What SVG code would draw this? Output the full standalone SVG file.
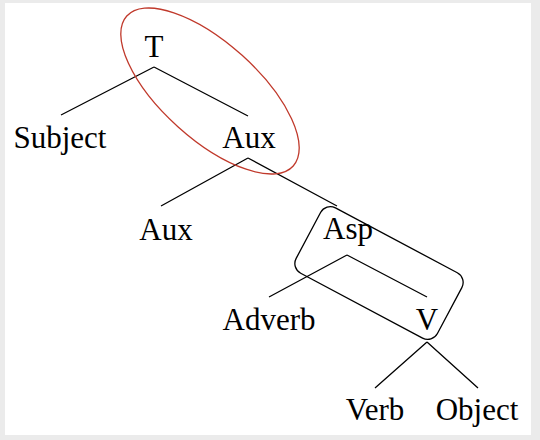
<svg xmlns="http://www.w3.org/2000/svg" width="540" height="440" viewBox="0 0 540 440">
<style>
text{font-family:"Liberation Serif","DejaVu Serif",serif;font-size:31px;fill:#000;text-anchor:middle}
.e{fill:none;stroke:#000;stroke-width:1.3}
</style>
<rect x="0" y="0" width="540" height="440" fill="#ebebeb"/>
<rect x="5" y="3" width="526" height="432" fill="#fff"/>
<g id="connectors">
<path class="e" d="M154,67 L61,115 M154,67 L248,116"/>
<path class="e" d="M248,158 L161,206 M248,158 L337,206"/>
<path class="e" d="M347,255 L269,297 M347,255 L427,297"/>
<path class="e" d="M427,342 L375,388 M427,342 L478,388"/>
</g>
<g id="highlight-ellipse"><ellipse cx="210" cy="91" rx="112" ry="48" transform="rotate(42 210 91)" fill="none" stroke="#c0392b" stroke-width="1.3"/></g>
<g id="highlight-box"><rect x="-80" y="-37" width="160" height="74" rx="11" transform="translate(379,273) rotate(28)" fill="none" stroke="#000" stroke-width="1.3"/></g>
<g id="T"><text x="154" y="57">T</text></g>
<g id="Subject"><text x="60" y="148">Subject</text></g>
<g id="Aux1"><text x="249" y="148">Aux</text></g>
<g id="Aux2"><text x="166" y="240">Aux</text></g>
<g id="Asp"><text x="348" y="239">Asp</text></g>
<g id="Adverb"><text x="269" y="330">Adverb</text></g>
<g id="V"><text x="427" y="330">V</text></g>
<g id="Verb"><text x="375" y="420">Verb</text></g>
<g id="Object"><text x="477" y="420">Object</text></g>
</svg>
